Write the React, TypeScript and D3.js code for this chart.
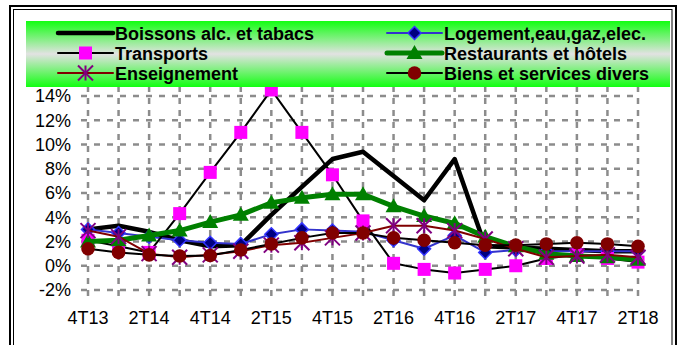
import React from "react";
import * as d3 from "d3";

const categories = ["4T13","1T14","2T14","3T14","4T14","1T15","2T15","3T15","4T15","1T16","2T16","3T16","4T16","1T17","2T17","3T17","4T17","1T18","2T18"];
const tickLabels = ["4T13","2T14","4T14","2T15","4T15","2T16","4T16","2T17","4T17","2T18"];
const yTicks = [-2, 0, 2, 4, 6, 8, 10, 12, 14];

const boissons = [3.0, 3.3, 2.8, 2.1, 1.6, 1.7, 4.2, 6.5, 8.8, 9.4, 7.4, 5.4, 8.8, 1.6, 1.5, 1.4, 1.3, 1.2, 1.2];
const logement = [3.0, 2.7, 2.4, 2.1, 1.9, 1.8, 2.6, 3.0, 2.9, 2.8, 2.1, 1.4, 2.5, 1.1, 1.3, 1.2, 1.2, 1.2, 1.2];
const transports = [2.1, 1.6, 1.1, 4.3, 7.7, 11.0, 14.5, 11.0, 7.5, 3.7, 0.2, -0.3, -0.6, -0.3, 0.0, 0.6, 0.9, 0.6, 0.3];
const restaurants = [2.0, 2.1, 2.5, 2.9, 3.6, 4.2, 5.2, 5.6, 5.9, 5.9, 4.9, 4.1, 3.5, 2.4, 1.6, 1.0, 0.8, 0.7, 0.5];
const enseignement = [2.9, 2.4, 1.0, 0.7, 0.9, 1.2, 1.7, 1.9, 2.3, 2.7, 3.3, 3.3, 2.9, 2.2, 1.4, 0.7, 0.8, 0.9, 0.7];
const biens = [1.4, 1.1, 0.9, 0.8, 0.85, 1.3, 1.8, 2.3, 2.7, 2.7, 2.3, 2.1, 1.9, 1.7, 1.7, 1.8, 1.9, 1.8, 1.6];

type Marker = "none" | "diamond" | "square" | "triangle" | "star" | "circle";
interface Series { name: string; values: number[]; line: string; width: number; marker: Marker; fill: string; stroke: string; }

const series: Series[] = [
  { name: "Boissons alc. et tabacs", values: boissons, line: "#000000", width: 4.5, marker: "none", fill: "none", stroke: "none" },
  { name: "Logement,eau,gaz,elec.", values: logement, line: "#3333cc", width: 2, marker: "diamond", fill: "#000080", stroke: "#3333ff" },
  { name: "Transports", values: transports, line: "#000000", width: 2, marker: "square", fill: "#ff00ff", stroke: "#ff00ff" },
  { name: "Restaurants et hôtels", values: restaurants, line: "#008000", width: 5, marker: "triangle", fill: "#008000", stroke: "#008000" },
  { name: "Enseignement", values: enseignement, line: "#800000", width: 2, marker: "star", fill: "none", stroke: "#800080" },
  { name: "Biens et services divers", values: biens, line: "#000000", width: 2, marker: "circle", fill: "#800000", stroke: "#800000" },
];

function MarkerShape({ m, x, y, fill, stroke }: { m: Marker; x: number; y: number; fill: string; stroke: string }) {
  if (m === "diamond") {
    const s = 6.5;
    return <path d={`M${x},${y - s}L${x + s},${y}L${x},${y + s}L${x - s},${y}Z`} fill={fill} stroke={stroke} strokeWidth={1.5} />;
  }
  if (m === "square") {
    const s = 6.5;
    return <rect x={x - s} y={y - s} width={2 * s} height={2 * s} fill={fill} />;
  }
  if (m === "triangle") {
    const s = 8;
    return <path d={`M${x},${y - s}L${x + s},${y + s * 0.75}L${x - s},${y + s * 0.75}Z`} fill={fill} />;
  }
  if (m === "circle") {
    return <circle cx={x} cy={y} r={6.8} fill={fill} />;
  }
  if (m === "star") {
    const s = 7.5;
    return (
      <g stroke={stroke} strokeWidth={2}>
        <line x1={x - s} y1={y - s} x2={x + s} y2={y + s} />
        <line x1={x - s} y1={y + s} x2={x + s} y2={y - s} />
        <line x1={x} y1={y - s} x2={x} y2={y + s} />
      </g>
    );
  }
  return null;
}

export default function App() {
  const x = d3.scalePoint<string>().domain(categories).range([88, 638]);
  const y = d3.scaleLinear().domain([-2, 14]).range([290, 96]);
  const font = "'Liberation Sans', Arial, sans-serif";

  const legendCols = [58, 387];
  const legendRows = [33, 53, 73];

  return (
    <svg width={681} height={345} style={{ position: "absolute", left: 0, top: 0, background: "#fff" }}>
      <defs>
        <linearGradient id="lg" x1="0" y1="0" x2="0" y2="1">
          <stop offset="0" stopColor="#12ff12" />
          <stop offset="0.5" stopColor="#e2e2e2" />
          <stop offset="1" stopColor="#12ff12" />
        </linearGradient>
      </defs>
      <rect x={0} y={0} width={681} height={345} fill="#fff" />
      {/* frame */}
      <rect x={10} y={6} width={666} height={360} fill="none" stroke="#000" strokeWidth={2} />
      <rect x={13.5} y={9.5} width={658.5} height={360} fill="none" stroke="#000" strokeWidth={1} />

      {/* grid */}
      <g stroke="#8c8c8c" strokeWidth={2.5} strokeDasharray="6,7">
        {yTicks.map((t) => (
          <line key={"h" + t} x1={81} x2={640} y1={y(t)} y2={y(t)} />
        ))}
        {categories.map((c) => (
          <line key={"v" + c} x1={x(c)} x2={x(c)} y1={y(-2.5)} y2={y(16)} strokeDasharray="6,6" />
        ))}
      </g>

      {/* y labels */}
      {yTicks.map((t) => (
        <text key={"yl" + t} x={71} y={y(t)} dy="0.36em" textAnchor="end" fontFamily={font} fontSize={18} fill="#000">
          {t}%
        </text>
      ))}
      {/* x labels */}
      {tickLabels.map((c) => (
        <text key={"xl" + c} x={x(c)} y={324} textAnchor="middle" fontFamily={font} fontSize={18} fill="#000">
          {c}
        </text>
      ))}

      {/* lines */}
      {series.map((s) => {
        const gen = d3.line<number>().x((_, i) => x(categories[i]) as number).y((v) => y(v));
        return (
          <g key={s.name}>
            <path d={gen(s.values) || ""} fill="none" stroke={s.line} strokeWidth={s.width} strokeLinejoin="round" />
            {s.values.map((v, i) => (
              <MarkerShape key={i} m={s.marker} x={x(categories[i]) as number} y={y(v)} fill={s.fill} stroke={s.stroke} />
            ))}
          </g>
        );
      })}

      {/* legend */}
      <rect x={26} y={21} width={644} height={66} fill="url(#lg)" />
      {series.map((s, i) => {
        const cx = legendCols[i % 2];
        const cy = legendRows[Math.floor(i / 2)];
        const len = 55;
        return (
          <g key={"lg" + s.name}>
            <line x1={cx} x2={cx + len} y1={cy} y2={cy} stroke={s.line} strokeWidth={s.width} strokeLinecap="round" />
            <MarkerShape m={s.marker} x={cx + len / 2} y={cy} fill={s.fill} stroke={s.stroke} />
            <text x={cx + len + 2} y={cy + 6.5} fontFamily={font} fontSize={18} fontWeight="bold" fill="#000">
              {s.name}
            </text>
          </g>
        );
      })}
    </svg>
  );
}
